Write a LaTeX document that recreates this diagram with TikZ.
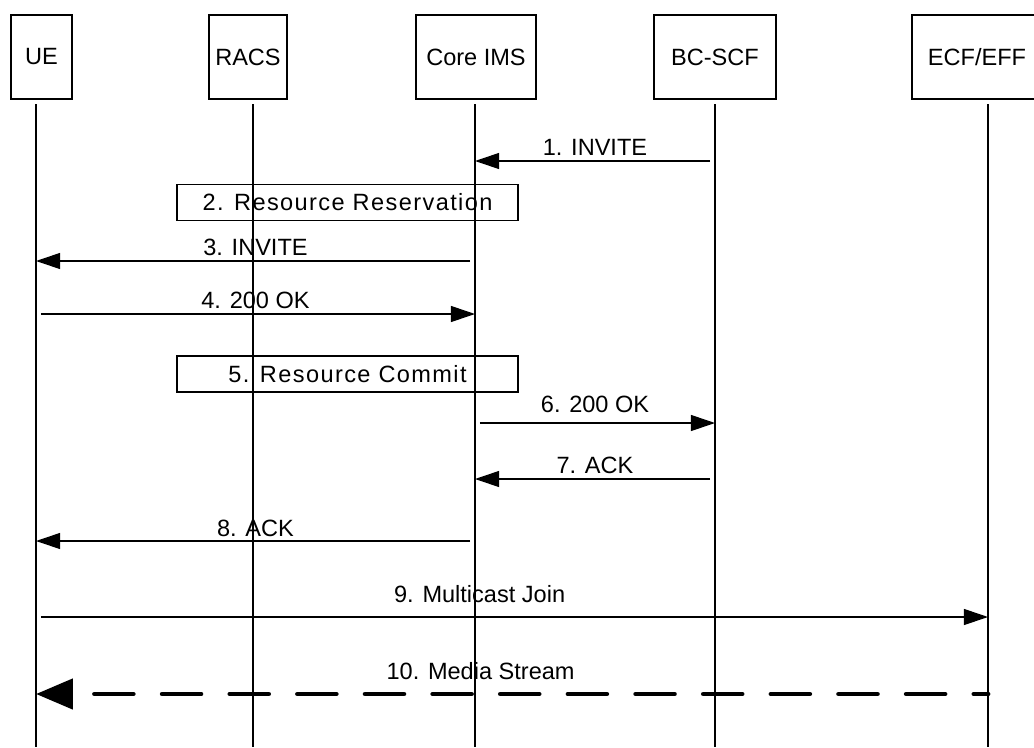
\documentclass[tikz,border=0pt]{standalone}
\usepackage{fontspec}
\setmainfont{Liberation Sans}
\usetikzlibrary{arrows.meta}
\newcommand{\lblfont}{\fontsize{13.4}{16}\selectfont}
\newcommand{\procfont}{\fontsize{13.4}{16}\selectfont\addfontfeature{LetterSpace=6}}
\tikzset{
  ent/.style={draw,line width=1.3pt,minimum height=1.68cm,inner sep=0pt,font=\lblfont},
  proc/.style={draw,line width=0.9pt,minimum width=6.82cm,minimum height=0.72cm,
    inner sep=0pt,font=\procfont},
  life/.style={line width=1.1pt},
  msg/.style={-{Triangle[length=13.7pt,width=9.1pt]},line width=0.7pt,shorten <=2.8pt},
  media/.style={-{Triangle[length=21pt,width=17pt]},line width=2.8pt,line cap=round,
    dash pattern=on 22pt off 16.5pt,dash phase=14pt},
  lbl/.style={anchor=base,inner sep=0pt,font=\lblfont},
}
\begin{document}
\begin{tikzpicture}[x=0.02cm,y=-0.02cm]
\useasboundingbox (0,0) rectangle (1034,747);
% entities
\node[ent,minimum width=1.22cm] (ueBox) at (41.5,57) {UE};
\node[ent,minimum width=1.56cm] (racsBox) at (248,57) {RACS};
\node[ent,minimum width=2.4cm] (coreBox) at (476,57) {Core IMS};
\node[ent,minimum width=2.44cm] (bcBox) at (715,57) {BC-SCF};
\node[ent,minimum width=2.6cm] (ecfBox) at (977,57) {ECF/EFF};
% lifelines
\coordinate (ue) at (36,104);
\coordinate (racs) at (253,104);
\coordinate (core) at (475,104);
\coordinate (bc) at (715,104);
\coordinate (ecf) at (988,104);
\coordinate (bot) at (0,747);
\foreach \n in {ue,racs,core,bc,ecf}
  \draw[life] (\n) -- (\n |- bot);
% rows
\foreach \n/\y in {1/161,3/261,4/314,6/423,7/479,8/541,9/617,10/694}
  \coordinate (r\n) at (0,\y);
% local procedures
\node[proc] (resv) at (347.5,202.5) {2. Resource Reservation};
\node[proc] (commit) at (347.5,374) {5. Resource Commit};
% signalling
\foreach \n/\a/\b/\t/\p/\r in {1/bc/core/{1. INVITE}/.5/3.4pt,
    3/core/ue/{3. INVITE}/.5/3.4pt,
    4/ue/core/{4. 200 OK}/.5/3.4pt,
    6/core/bc/{6. 200 OK}/.5/5.7pt,
    7/bc/core/{7. ACK}/.5/3.4pt,
    8/core/ue/{8. ACK}/.5/2.8pt,
    9/ue/ecf/{9. Multicast Join}/.466/8.5pt}
  \draw[msg] (\a |- r\n) -- node[lbl,pos=\p,yshift=\r]{\t} (\b |- r\n);
% media
\draw[media] (ecf |- r10) -- node[lbl,pos=.533,yshift=8pt]{10. Media Stream} (ue |- r10);
\end{tikzpicture}
\end{document}
